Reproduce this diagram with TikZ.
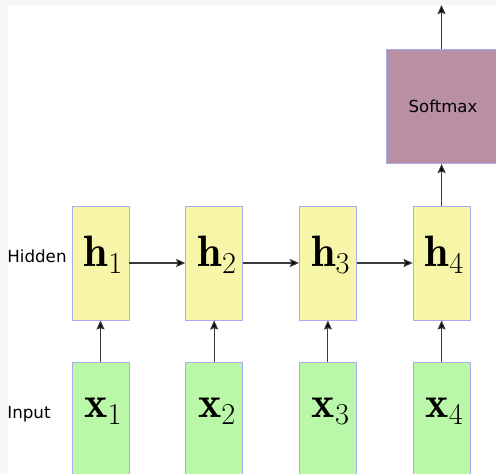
\documentclass[tikz,border=0pt]{standalone}
\usepackage{fontspec}
\newfontfamily\labelfont{DejaVu Sans}
\usetikzlibrary{arrows.meta}
\DeclareMathSizes{25}{25}{16.8}{12}
\definecolor{hidden-fill}{HTML}{F7F5A8}
\definecolor{input-fill}{HTML}{BAF7A8}
\definecolor{softmax-fill}{HTML}{B98FA3}
\definecolor{box-edge}{HTML}{ABABF0}
\definecolor{arrow-gray}{HTML}{3A3A3A}

\begin{document}
\begin{tikzpicture}[
    cell/.style={draw=box-edge, line width=0.5pt, minimum width=1.14cm,
                 minimum height=2.28cm, inner sep=0pt},
    vec/.style={font=\fontsize{25}{29}\selectfont, inner sep=0pt, anchor=base},
    link/.style={draw=arrow-gray, line width=0.6pt,
                 -{Stealth[length=5.2pt, width=4.6pt, inset=0.8pt, fill=black]}},
    side/.style={font=\labelfont\fontsize{9.5}{11}\selectfont,
                 anchor=base west, inner sep=0pt}]
    \clip (0,0) rectangle (9.92,9.48);
    \fill[black!3] (0,0) rectangle (9.92,9.48);
    \fill[white] (0.16,0) rectangle (9.92,9.38);

    % row labels
    \node[side] (hid) at (0.14,4.22) {Hidden};
    \node[side] (inp) at (0.14,1.10) {Input};

    % one column per time step
    \foreach \i in {1,...,4} {
      \pgfmathsetmacro\cx{2.01+2.274*(\i-1)}
      \node[cell, fill=hidden-fill] (h\i) at (\cx,4.22) {};
      \node[vec] (hl\i) at ([xshift=0.06cm, yshift=-0.08cm]h\i.center) {$\mathbf{h}_\i$};
      \node[cell, fill=input-fill] (x\i) at (\cx,1.10) {};
      \node[vec] (xl\i) at ([xshift=0.06cm, yshift=0.02cm]x\i.center) {$\mathbf{x}_\i$};
      \draw[link] (x\i) -- (h\i);
    }
    \foreach \i/\j in {1/2,2/3,3/4}
      \draw[link] (h\i) -- (h\j);

    % output layer
    \node[cell, fill=softmax-fill, minimum width=2.28cm,
          font=\labelfont\fontsize{9.4}{11}\selectfont] (soft) at (8.86,7.35) {Softmax};
    \coordinate (out) at (8.83,9.38);
    \draw[link] (h4) -- (h4 |- soft.south);
    \draw[link] (soft.north -| out) -- (out);
  \end{tikzpicture}
\end{document}
